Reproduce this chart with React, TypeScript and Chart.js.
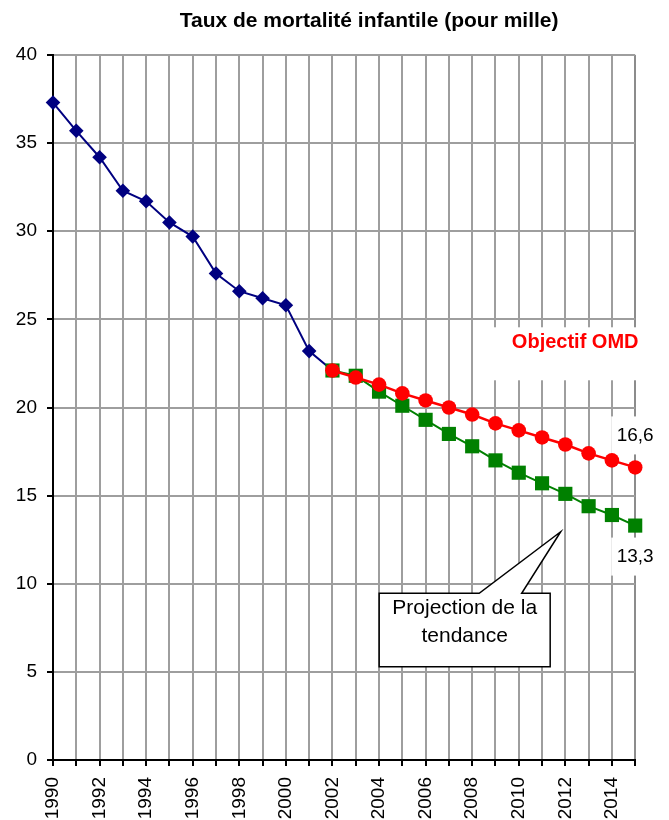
import React, { useEffect, useRef } from 'react';
import { Chart, registerables } from 'chart.js';

Chart.register(...registerables);

const years = [
  '1990', '1991', '1992', '1993', '1994', '1995', '1996', '1997', '1998', '1999',
  '2000', '2001', '2002', '2003', '2004', '2005', '2006', '2007', '2008', '2009',
  '2010', '2011', '2012', '2013', '2014', '2015',
];

// 1990 - 2002
const observed = [37.3, 35.7, 34.2, 32.3, 31.7, 30.5, 29.7, 27.6, 26.6, 26.2, 25.8, 23.2, 22.1];
// 2002 - 2015
const omdTarget = [22.1, 21.7, 21.3, 20.8, 20.4, 20.0, 19.6, 19.1, 18.7, 18.3, 17.9, 17.4, 17.0, 16.6];
// 2002 - 2015
const trendProjection = [22.1, 21.8, 20.9, 20.1, 19.3, 18.5, 17.8, 17.0, 16.3, 15.7, 15.1, 14.4, 13.9, 13.3];

const yMin = 0;
const yMax = 40;
const yStep = 5;

const titleText = 'Taux de mortalité infantile (pour mille)';
const omdLabel = 'Objectif OMD';
const calloutLines = ['Projection de la', 'tendance'];

const FONT = "'Liberation Sans', Arial, Helvetica, sans-serif";

const observedFull = years.map((_, i) => (i < observed.length ? observed[i] : null));
const projStart = years.indexOf('2002');
const omdFull = years.map((_, i) => (i >= projStart ? omdTarget[i - projStart] : null));
const trendFull = years.map((_, i) => (i >= projStart ? trendProjection[i - projStart] : null));

const fmt = (v: number) => v.toFixed(1).replace('.', ',');

const annotationPlugin = {
  id: 'annotations',
  beforeDatasetsDraw(chart: any) {
    const { ctx, chartArea, scales } = chart;
    const xs = scales.x;
    const ys = scales.y;
    ctx.save();

    // Objectif OMD label
    const ocx = chartArea.right - 60;
    const ocy = ys.getPixelForValue(23.7);
    ctx.fillStyle = '#ffffff';
    ctx.fillRect(ocx - 88, ocy - 15, 160, 53);
    ctx.fillStyle = '#ff0000';
    ctx.font = `bold 20px ${FONT}`;
    ctx.textAlign = 'center';
    ctx.textBaseline = 'middle';
    ctx.fillText(omdLabel, ocx, ocy);

    // end value labels
    const last = years.length - 1;
    const redPt = chart.getDatasetMeta(0).data[last];
    const greenPt = chart.getDatasetMeta(1).data[last];
    ctx.font = `19px ${FONT}`;
    const drawValueLabel = (cx: number, cy: number, text: string) => {
      ctx.fillStyle = '#ffffff';
      ctx.fillRect(cx - 24, cy - 19, 48, 38);
      ctx.fillStyle = '#000000';
      ctx.fillText(text, cx, cy);
    };
    drawValueLabel(redPt.x, redPt.y - 32, fmt(omdTarget[omdTarget.length - 1]));
    drawValueLabel(greenPt.x, greenPt.y + 31, fmt(trendProjection[trendProjection.length - 1]));

    // callout
    const tipX = xs.getPixelForValue(21.8);
    const tipY = ys.getPixelForValue(12.95);
    const left = tipX - 181.5;
    const right = tipX - 10.5;
    const top = tipY + 61.5;
    const bottom = tipY + 135;
    ctx.beginPath();
    ctx.moveTo(left, top);
    ctx.lineTo(tipX - 81.5, top);
    ctx.lineTo(tipX, tipY);
    ctx.lineTo(tipX - 39, top);
    ctx.lineTo(right, top);
    ctx.lineTo(right, bottom);
    ctx.lineTo(left, bottom);
    ctx.closePath();
    ctx.fillStyle = '#ffffff';
    ctx.fill();
    ctx.strokeStyle = '#000000';
    ctx.lineWidth = 1.5;
    ctx.stroke();
    ctx.fillStyle = '#000000';
    ctx.font = `21px ${FONT}`;
    ctx.textBaseline = 'alphabetic';
    const ccx = (left + right) / 2;
    ctx.fillText(calloutLines[0], ccx, top + 21);
    ctx.fillText(calloutLines[1], ccx, top + 49);

    ctx.restore();
  },
  afterDraw(chart: any) {
    const { ctx, chartArea } = chart;
    ctx.save();
    ctx.fillStyle = '#000000';
    ctx.font = `bold 21px ${FONT}`;
    ctx.textAlign = 'center';
    ctx.textBaseline = 'middle';
    ctx.fillText(titleText, (chartArea.left + chartArea.right) / 2 + 25, 21);
    ctx.restore();
  },
};

export default function App() {
  const canvasRef = useRef<HTMLCanvasElement | null>(null);

  useEffect(() => {
    if (!canvasRef.current) return;
    const chart = new Chart(canvasRef.current, {
      type: 'line',
      data: {
        labels: years,
        datasets: [
          {
            label: 'Objectif OMD',
            data: omdFull,
            borderColor: '#ff0000',
            backgroundColor: '#ff0000',
            borderWidth: 2.5,
            pointStyle: 'circle',
            pointRadius: 7.3,
            pointBorderWidth: 0,
            pointBackgroundColor: '#ff0000',
            tension: 0,
            clip: false,
          },
          {
            label: 'Projection de la tendance',
            data: trendFull,
            borderColor: '#008000',
            backgroundColor: '#008000',
            borderWidth: 2,
            pointStyle: 'rect',
            pointRadius: 10,
            pointBorderWidth: 0,
            pointBackgroundColor: '#008000',
            tension: 0,
            clip: false,
          },
          {
            label: 'Taux observé',
            data: observedFull,
            borderColor: '#000080',
            backgroundColor: '#000080',
            borderWidth: 2,
            pointStyle: 'rectRot',
            pointRadius: 7.3,
            pointBorderWidth: 0,
            pointBackgroundColor: '#000080',
            tension: 0,
            clip: false,
          },
        ],
      },
      options: {
        animation: false,
        responsive: false,
        devicePixelRatio: 1,
        events: [],
        layout: { padding: { top: 55, right: 33, left: 0, bottom: 0 }, autoPadding: false },
        plugins: {
          legend: { display: false },
          title: { display: false },
          tooltip: { enabled: false },
        },
        scales: {
          x: {
            type: 'category',
            offset: false,
            afterFit: (s: any) => { s.height = 60; },
            grid: {
              offset: false,
              color: (c: any) => (c.index === years.length - 1 ? '#8c8c8c' : '#9e9e9e'),
              lineWidth: 2,
              tickColor: '#000000',
              tickWidth: 2,
              tickLength: 6,
              drawTicks: true,
            },
            border: { color: '#000000', width: 2 },
            ticks: {
              autoSkip: false,
              maxRotation: 90,
              minRotation: 90,
              padding: 11,
              color: '#000000',
              font: { family: FONT, size: 19 },
              callback: (_v: any, i: number) => (i % 2 === 0 ? years[i] : ''),
            },
          },
          y: {
            type: 'linear',
            min: yMin,
            max: yMax,
            afterFit: (s: any) => { s.width = 53; },
            grid: {
              color: '#9e9e9e',
              lineWidth: 2,
              tickColor: '#000000',
              tickWidth: 2,
              tickLength: 6,
            },
            border: { color: '#000000', width: 2 },
            ticks: {
              stepSize: yStep,
              padding: 10,
              color: '#000000',
              font: { family: FONT, size: 19 },
              callback: (v: any) => String(v),
            },
          },
        },
      },
      plugins: [annotationPlugin],
    } as any);
    return () => chart.destroy();
  }, []);

  return (
    <div style={{ position: 'absolute', left: 0, top: 0, width: 669, height: 820, background: '#ffffff' }}>
      <canvas ref={canvasRef} width={669} height={820} style={{ display: 'block', width: 669, height: 820 }} />
    </div>
  );
}
